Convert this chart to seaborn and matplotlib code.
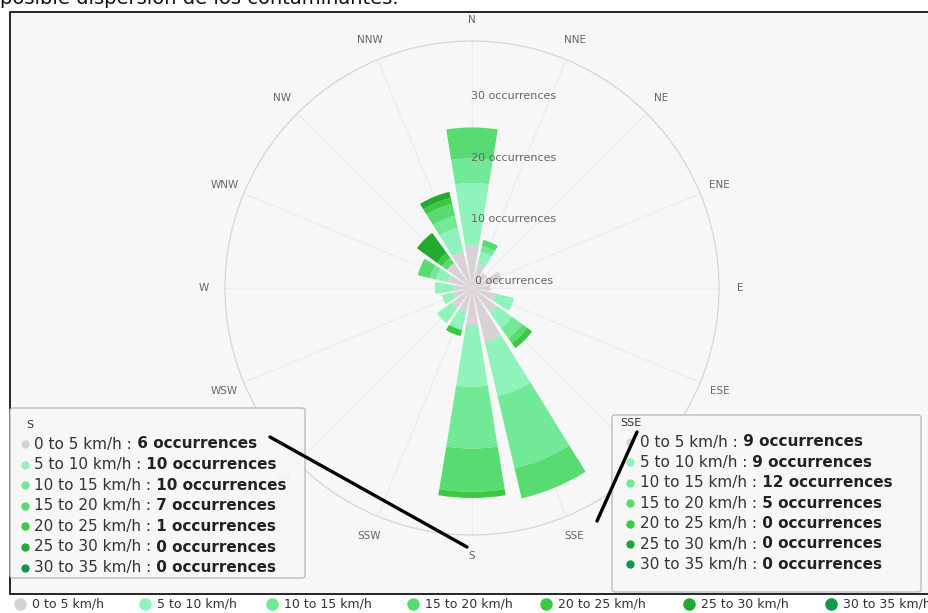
import numpy as np
import pandas as pd
import matplotlib
matplotlib.use('Agg')
import matplotlib.pyplot as plt
import seaborn as sns
from matplotlib.patches import Rectangle, FancyBboxPatch
from matplotlib.lines import Line2D

# ---------------- data ----------------
directions = ['N', 'NNE', 'NE', 'ENE', 'E', 'ESE', 'SE', 'SSE',
              'S', 'SSW', 'SW', 'WSW', 'W', 'WNW', 'NW', 'NNW']
speed_bins = ['0 to 5 km/h', '5 to 10 km/h', '10 to 15 km/h', '15 to 20 km/h',
              '20 to 25 km/h', '25 to 30 km/h', '30 to 35 km/h']
#            N  NNE NE ENE E ESE SE SSE S  SSW SW WSW W WNW NW NNW
speed_0_5   = [7, 4, 3, 5, 3, 4, 5, 9, 6, 4, 4, 3, 3, 4, 5, 6]
speed_5_10  = [10, 2, 0, 0, 0, 3, 3, 9, 10, 3, 3, 2, 3, 2, 0, 4]
speed_10_15 = [4, 1, 0, 0, 0, 0, 2, 12, 10, 0, 0, 0, 0, 1, 0, 2]
speed_15_20 = [5, 1, 0, 0, 0, 0, 1, 5, 7, 0, 0, 0, 0, 2, 1, 2]
speed_20_25 = [0, 0, 0, 0, 0, 0, 1, 0, 1, 1, 0, 0, 0, 0, 1, 1]
speed_25_30 = [0, 0, 0, 0, 0, 0, 0, 0, 0, 0, 0, 0, 0, 0, 4, 1]
speed_30_35 = [0, 0, 0, 0, 0, 0, 0, 0, 0, 0, 0, 0, 0, 0, 0, 0]
radial_ticks = [0, 10, 20, 30]

series = [speed_0_5, speed_5_10, speed_10_15, speed_15_20,
          speed_20_25, speed_25_30, speed_30_35]
colors = ['#d8d2d6', '#8ff3bb', '#72e996', '#58db70', '#3dc842', '#22aa30', '#139848']

df = pd.DataFrame({'direction': directions})
for lab, vals in zip(speed_bins, series):
    df[lab] = vals

# ---------------- style ----------------
sns.set_theme(style='white')
plt.rcParams['font.family'] = ['DejaVu Sans']
palette = sns.color_palette(colors)

W, H = 929, 613
fig = plt.figure(figsize=(W / 100, H / 100), dpi=100)
fig.patch.set_facecolor('white')


def fx(x):
    return x / W


def fy(y):
    return 1 - y / H


# frame + background of screenshot
fig.add_artist(Rectangle((fx(10), fy(594)), (W - 10) / W, (594 - 12) / H,
                         transform=fig.transFigure, facecolor='#f7f7f7',
                         edgecolor='black', lw=1.2, zorder=0))
fig.text(fx(0), fy(4), 'posible dispersión de los contaminantes.', fontsize=14,
         ha='left', va='baseline', color='#111111')

# ---------------- polar chart ----------------
cx, cy, R = 472, 288, 247
ax = fig.add_axes([fx(cx - R), fy(cy + R), 2 * R / W, 2 * R / H], projection='polar')
ax.set_theta_zero_location('N')
ax.set_theta_direction(-1)
ax.set_facecolor('none')

theta = np.deg2rad(np.arange(len(directions)) * 22.5)
width = np.deg2rad(22.5 * 0.82)
bottom = np.zeros(len(directions))
for lab, col in zip(speed_bins, palette):
    vals = df[lab].to_numpy(dtype=float)
    ax.bar(theta, vals, width=width, bottom=bottom, color=col,
           edgecolor='none', zorder=3, align='center')
    bottom += vals

ax.set_ylim(0, 40)
ax.set_yticks([])
ax.set_xticks(theta)
ax.set_xticklabels([])
ax.xaxis.grid(True, color='#ededed', lw=1)
ax.yaxis.grid(False)
ax.spines['polar'].set_color('#d4d8e2')
ax.spines['polar'].set_linewidth(1)

for d, t in zip(directions, theta):
    ax.text(t, 43.4, d, ha='center', va='center', fontsize=7.5, color='#666666')
for v in radial_ticks:
    ax.annotate(f'{v} occurrences', xy=(0, v), xytext=(42, 7),
                textcoords='offset pixels', ha='center', va='center',
                fontsize=8, color='#666666', zorder=6)


# ---------------- tooltips ----------------
def tooltip(direction, box, title_xy, x_bullet, x_text, y0, dy):
    i = directions.index(direction)
    x0, y0b, x1, y1b = box
    fig.add_artist(FancyBboxPatch((fx(x0), fy(y1b)), (x1 - x0) / W, (y1b - y0b) / H,
                                  boxstyle='round,pad=0,rounding_size=0.004',
                                  transform=fig.transFigure, facecolor='#f7f7f7',
                                  edgecolor='#b8b8b8', lw=1, alpha=0.95, zorder=8))
    fig.text(fx(title_xy[0]), fy(title_xy[1]), direction, fontsize=8,
             color='#333333', ha='left', va='center', zorder=9)
    for k, (lab, col) in enumerate(zip(speed_bins, palette)):
        y = y0 + k * dy
        fig.add_artist(Line2D([fx(x_bullet)], [fy(y)], marker='o', markersize=5,
                              color=col, transform=fig.transFigure, zorder=9))
        t1 = fig.text(fx(x_text), fy(y), f'{lab} :', fontsize=11,
                      color='#333333', ha='left', va='center', zorder=9)
        fig.add_artist(plt.Annotation(f' {int(series[k][i])} occurrences', xy=(1, 0),
                                      xycoords=t1, va='bottom', ha='left',
                                      fontsize=11, fontweight='bold',
                                      color='#222222', zorder=9))


tooltip('S', (10, 408, 305, 578), (26, 425), 25, 34, 444, 20.6)
tooltip('SSE', (612, 415, 921, 592), (620, 423), 630, 640, 442, 20.4)

# connector lines drawn on screenshot
fig.add_artist(Line2D([fx(270), fx(467)], [fy(437), fy(547)], color='black',
                      lw=2.4, transform=fig.transFigure, zorder=10))
fig.add_artist(Line2D([fx(637), fx(597)], [fy(432), fy(521)], color='black',
                      lw=2.4, transform=fig.transFigure, zorder=10))

# ---------------- bottom legend ----------------
legend_x = [20, 145, 272, 413, 546, 689, 831]
for lab, col, x in zip(speed_bins, palette, legend_x):
    fig.add_artist(Line2D([fx(x)], [fy(604)], marker='o', markersize=8,
                          color=col, transform=fig.transFigure, zorder=9))
    fig.text(fx(x + 12), fy(604), lab, fontsize=9, color='#333333',
             ha='left', va='center', zorder=9)

fig.savefig('out.png', dpi=100)
